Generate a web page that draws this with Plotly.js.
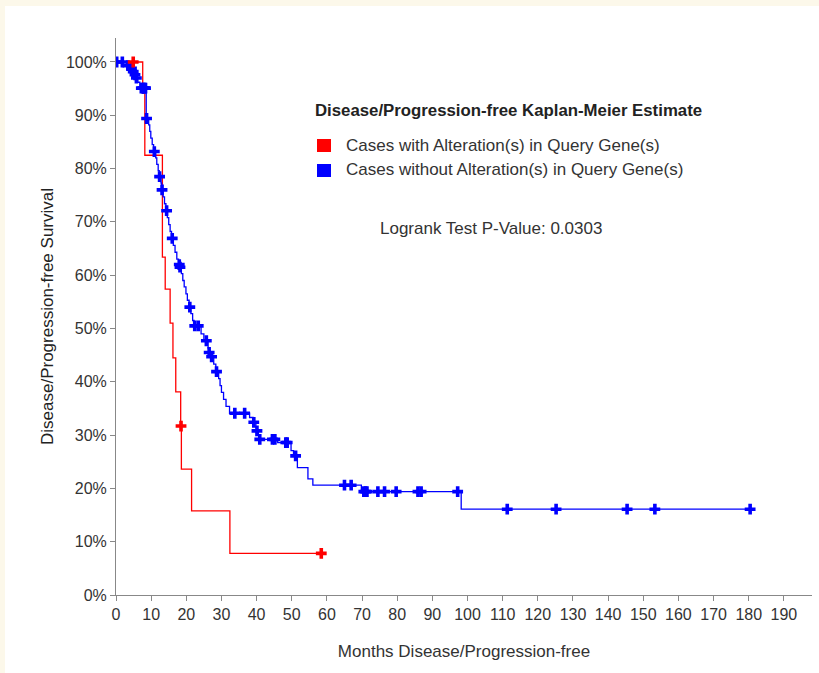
<!DOCTYPE html>
<html>
<head>
<meta charset="utf-8">
<script src="https://cdn.plot.ly/plotly-3.0.1.min.js"></script>
<style>
  html, body { margin: 0; padding: 0; background: #fcf8ea; width: 819px; height: 673px; overflow: hidden; }
  #chart { position: absolute; left: 5px; top: 6px; width: 814px; height: 667px; background: #ffffff; }
</style>
</head>
<body>
<div id="chart"></div>
<script>
// ---- Data ----
// Cases with alteration(s): step points (time in months, survival fraction)
var redTimes = [0, 7.6, 8.2, 13.2, 14.0, 15.4, 16.2, 17.0, 18.4, 18.6, 21.5, 32.4, 58.4];
var redSurv  = [1.0, 0.941, 0.825, 0.634, 0.574, 0.510, 0.445, 0.381, 0.317, 0.236, 0.158, 0.078, 0.078];
var redCensorTimes = [4.9, 18.5, 58.4];
var redCensorSurv  = [1.0, 0.317, 0.078];

// Cases without alteration(s)
var blueTimes = [0, 3.0, 4.2, 4.7, 5.2, 5.6, 6.2, 6.8, 8.6, 9.3, 9.6, 9.9, 10.3, 10.7, 11.3, 11.6, 12.0, 12.3, 12.8, 13.0,
  13.4, 13.8, 14.2, 14.6, 15.0, 15.4, 15.8, 16.3, 16.8, 17.3, 17.8, 18.1, 18.6, 19.0, 19.4, 19.9, 20.3, 20.8, 21.3, 21.8,
  22.2, 24.2, 25.0, 26.2, 26.4, 27.0, 27.8, 28.4, 29.2, 29.6, 30.0, 30.6, 31.3, 32.3, 38.0, 39.0, 39.8, 40.0, 40.5, 40.8,
  46.0, 49.8, 50.5, 51.6, 54.6, 56.0, 69.8, 98.2, 180.4];
var blueSurv = [1.0, 0.993, 0.988, 0.982, 0.976, 0.970, 0.962, 0.951, 0.894, 0.882, 0.870, 0.857, 0.845, 0.832, 0.820, 0.808, 0.796, 0.785, 0.773, 0.760,
  0.747, 0.734, 0.721, 0.708, 0.695, 0.682, 0.669, 0.656, 0.643, 0.630, 0.620, 0.615, 0.603, 0.590, 0.578, 0.565, 0.553, 0.540, 0.528, 0.515,
  0.505, 0.490, 0.477, 0.463, 0.455, 0.447, 0.433, 0.419, 0.406, 0.393, 0.380, 0.367, 0.354, 0.341, 0.333, 0.324, 0.315, 0.308, 0.300, 0.292,
  0.286, 0.271, 0.261, 0.239, 0.218, 0.206, 0.194, 0.161, 0.161];
var blueCensorTimes = [0.2, 1.8, 3.4, 4.4, 4.9, 5.4, 5.8, 7.2, 7.6, 7.9, 8.2, 8.4, 8.7, 10.9, 12.4, 13.1, 14.4, 16.0, 18.0, 18.2,
  21.0, 22.4, 23.4, 25.7, 26.5, 27.2, 28.6, 33.8, 36.6, 39.2, 40.1, 40.9, 44.5, 45.2, 48.3, 48.7, 51.1, 65.0, 66.9,
  70.5, 71.0, 71.4, 74.5, 76.4, 79.7, 85.9, 86.8, 97.2, 111.3, 125.2, 145.4, 153.3, 180.4];
var blueCensorSurv = [1.0, 1.0, 0.993, 0.988, 0.982, 0.976, 0.970, 0.951, 0.951, 0.951, 0.951, 0.951, 0.894, 0.832, 0.785, 0.760, 0.721, 0.669, 0.620, 0.615,
  0.540, 0.505, 0.505, 0.477, 0.455, 0.447, 0.419, 0.341, 0.341, 0.324, 0.308, 0.292, 0.292, 0.292, 0.286, 0.286, 0.261, 0.206, 0.206,
  0.194, 0.194, 0.194, 0.194, 0.194, 0.194, 0.194, 0.194, 0.194, 0.161, 0.161, 0.161, 0.161, 0.161];

var xTickVals = [0, 10, 20, 30, 40, 50, 60, 70, 80, 90, 100, 110, 120, 130, 140, 150, 160, 170, 180, 190];
var yTickVals = [0, 0.1, 0.2, 0.3, 0.4, 0.5, 0.6, 0.7, 0.8, 0.9, 1.0];
var yTickText = ["0%", "10%", "20%", "30%", "40%", "50%", "60%", "70%", "80%", "90%", "100%"];

var chartTitle = "Disease/Progression-free Kaplan-Meier Estimate";
var seriesNames = ["Cases with Alteration(s) in Query Gene(s)", "Cases without Alteration(s) in Query Gene(s)"];
var pValueText = "Logrank Test P-Value: 0.0303";

// ---- Layout helpers (page pixel -> paper coords) ----
var PL = 116, PB = 595, PW = 696, PH = 557;
function px(x) { return (x - PL) / PW; }
function py(y) { return (PB - y) / PH; }

var RED = "#ff0000", BLUE = "#0000ff";
var FONT = "Arial, 'Liberation Sans', sans-serif";

var traces = [
  { x: redTimes, y: redSurv, mode: "lines", line: { shape: "hv", color: RED, width: 1.3 }, hoverinfo: "skip", showlegend: false },
  { x: blueTimes, y: blueSurv, mode: "lines", line: { shape: "hv", color: BLUE, width: 1.3 }, hoverinfo: "skip", showlegend: false },
  { x: blueCensorTimes, y: blueCensorSurv, mode: "markers", marker: { symbol: "cross", size: 9, color: BLUE, line: { width: 0 } }, showlegend: false },
  { x: redCensorTimes, y: redCensorSurv, mode: "markers", marker: { symbol: "cross", size: 9, color: RED, line: { width: 0 } }, showlegend: false }
];

var layout = {
  width: 814, height: 667,
  margin: { l: 111, r: 7, t: 32, b: 78 },
  paper_bgcolor: "#ffffff",
  plot_bgcolor: "#ffffff",
  font: { family: FONT, size: 16, color: "#333333" },
  showlegend: false,
  xaxis: {
    range: [0, 198], tickvals: xTickVals, ticks: "outside", ticklen: 5, tickwidth: 1, tickcolor: "#888888",
    showline: true, linecolor: "#888888", linewidth: 1, showgrid: false, zeroline: false,
    tickfont: { family: FONT, size: 16, color: "#333333" },
    title: { text: "Months Disease/Progression-free", font: { family: FONT, size: 17, color: "#333333" }, standoff: 22 }
  },
  yaxis: {
    range: [0, 1.045], tickvals: yTickVals, ticktext: yTickText, ticks: "outside", ticklen: 5, tickwidth: 1, tickcolor: "#888888",
    showline: true, linecolor: "#888888", linewidth: 1, showgrid: false, zeroline: false,
    tickfont: { family: FONT, size: 16, color: "#333333" },
    title: { text: "Disease/Progression-free Survival", font: { family: FONT, size: 17, color: "#222222" }, standoff: 7 }
  },
  shapes: [
    { type: "rect", xref: "paper", yref: "paper", x0: px(317), x1: px(331), y0: py(152), y1: py(139), fillcolor: RED, line: { width: 0 } },
    { type: "rect", xref: "paper", yref: "paper", x0: px(317), x1: px(331), y0: py(177), y1: py(164), fillcolor: BLUE, line: { width: 0 } }
  ],
  annotations: [
    { text: "<b>" + chartTitle + "</b>", xref: "paper", yref: "paper", x: px(313), y: py(110), xanchor: "left", yanchor: "middle", showarrow: false, font: { family: FONT, size: 16.8, color: "#222222" } },
    { text: seriesNames[0], xref: "paper", yref: "paper", x: px(344), y: py(145), xanchor: "left", yanchor: "middle", showarrow: false, font: { family: FONT, size: 17, color: "#333333" } },
    { text: seriesNames[1], xref: "paper", yref: "paper", x: px(344), y: py(170), xanchor: "left", yanchor: "middle", showarrow: false, font: { family: FONT, size: 17, color: "#333333" } },
    { text: pValueText, xref: "paper", yref: "paper", x: px(378), y: py(228), xanchor: "left", yanchor: "middle", showarrow: false, font: { family: FONT, size: 17, color: "#333333" } }
  ]
};

Plotly.newPlot("chart", traces, layout, { staticPlot: true, displayModeBar: false });
</script>
</body>
</html>
